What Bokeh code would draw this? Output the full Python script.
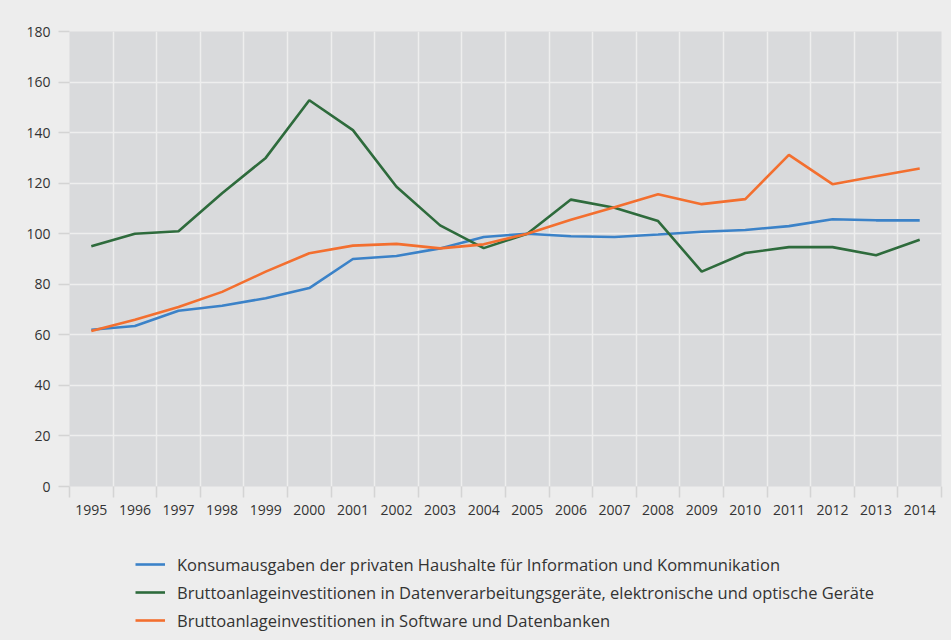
from bokeh.plotting import figure
from bokeh.layouts import column
from bokeh.models import FixedTicker, Legend, LegendItem, Range1d
from bokeh.embed import file_html
from bokeh.resources import INLINE

years = list(range(1995, 2015))
konsum = [62, 63.5, 69.5, 71.5, 74.5, 78.5, 90, 91.2, 94.2, 98.7, 100, 99, 98.7, 99.7,
          100.8, 101.5, 103, 105.7, 105.3, 105.3]
geraete = [95, 100, 101, 116, 130, 152.8, 141, 118.6, 103.3, 94.3, 100, 113.5, 110.3, 105,
           85, 92.4, 94.7, 94.7, 91.5, 97.6]
software = [61.5, 66, 71, 77, 85, 92.3, 95.3, 96, 94.2, 95.8, 100, 105.5, 110.5, 115.6,
            111.7, 113.7, 131.2, 119.6, 122.7, 125.8]
labels = [
    "Konsumausgaben der privaten Haushalte für Information und Kommunikation",
    "Bruttoanlageinvestitionen in Datenverarbeitungsgeräte, elektronische und optische Geräte",
    "Bruttoanlageinvestitionen in Software und Datenbanken",
]
colors = ["#3b82c8", "#2e6b3c", "#f36f2f"]
y_ticks = list(range(0, 181, 20))
series = [konsum, geraete, software]

FONT = "Open Sans"
TXT = "#333333"
BG = "#ededed"

p = figure(width=951, height=518, output_backend="svg", toolbar_location=None,
           x_range=Range1d(years[0] - 0.5, years[-1] + 0.5), y_range=Range1d(0, 180),
           background_fill_color="#d9dadc", border_fill_color=BG,
           outline_line_color=None, min_border_left=69, min_border_right=10,
           min_border_top=31, min_border_bottom=32)

boundaries = [y - 0.5 for y in years] + [years[-1] + 0.5]

p.xaxis.ticker = FixedTicker(ticks=years, minor_ticks=boundaries)
p.xaxis.major_tick_out = 0
p.xaxis.major_tick_in = 0
p.xaxis.minor_tick_out = 11
p.xaxis.minor_tick_in = 0
p.xaxis.minor_tick_line_color = "#d4d4d4"
p.xaxis.minor_tick_line_width = 1.5
p.xaxis.axis_line_color = None
p.xaxis.major_label_standoff = 7

p.yaxis.ticker = FixedTicker(ticks=y_ticks)
p.yaxis.major_tick_out = 11
p.yaxis.major_tick_in = 0
p.yaxis.minor_tick_line_color = None
p.yaxis.major_tick_line_color = "#d4d4d4"
p.yaxis.major_tick_line_width = 1.5
p.yaxis.axis_line_color = None
p.yaxis.major_label_standoff = 8

for ax in (p.xaxis, p.yaxis):
    ax.major_label_text_font = FONT
    ax.major_label_text_font_size = "14px"
    ax.major_label_text_color = TXT

p.xgrid.ticker = FixedTicker(ticks=boundaries[1:-1])
p.xgrid.grid_line_color = "#eeeeee"
p.xgrid.grid_line_width = 1.5
p.ygrid.ticker = FixedTicker(ticks=y_ticks)
p.ygrid.grid_line_color = "#eeeeee"
p.ygrid.grid_line_width = 1.5

for data, col in zip(series, colors):
    p.line(years, data, line_color=col, line_width=2.6)

# legend panel below the chart (its own ranges keep the copies of the lines out of view)
lp = figure(width=951, height=122, output_backend="svg", toolbar_location=None,
            x_range=Range1d(0, 1), y_range=Range1d(0, 1),
            x_axis_type=None, y_axis_type=None,
            background_fill_color=None, border_fill_color=None, outline_line_color=None,
            min_border=0)
lp.grid.visible = False
items = []
for data, col, lab in zip(series, colors, labels):
    r = lp.line(years, data, line_color=col, line_width=2.6)
    items.append(LegendItem(label=lab, renderers=[r]))

legend = Legend(items=items, location=(66, 8), orientation="vertical",
                background_fill_alpha=0, border_line_color=None,
                padding=0, margin=0, spacing=4, label_height=24, glyph_height=24,
                glyph_width=30, label_standoff=12,
                label_text_font=FONT, label_text_font_size="16.5px",
                label_text_color=TXT)
lp.add_layout(legend, "center")

layout = column(p, lp, spacing=0, styles={"background-color": BG})
open("out.html", "w").write(file_html(layout, INLINE))
